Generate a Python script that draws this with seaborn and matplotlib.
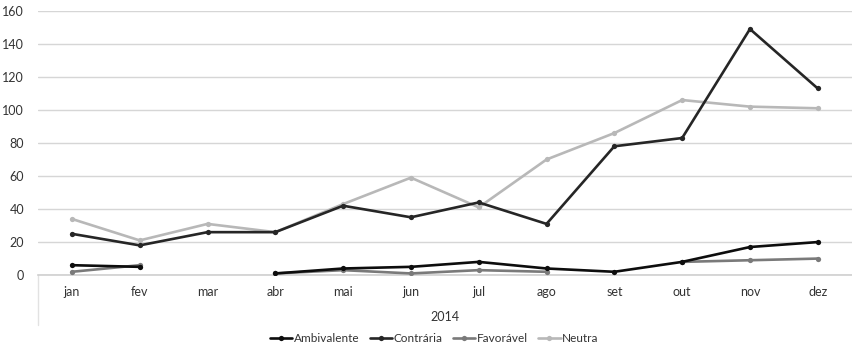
import numpy as np
import pandas as pd
import matplotlib
matplotlib.use("Agg")
import matplotlib.pyplot as plt
import seaborn as sns

months = ["jan", "fev", "mar", "abr", "mai", "jun", "jul", "ago", "set", "out", "nov", "dez"]
ambivalente = [6, 5, np.nan, 1, 4, 5, 8, 4, 2, 8, 17, 20]
contraria = [25, 18, 26, 26, 42, 35, 44, 31, 78, 83, 149, 113]
favoravel = [2, 6, np.nan, 1, 3, 1, 3, 2, np.nan, 8, 9, 10]
neutra = [34, 21, 31, 26, 43, 59, 41, 70, 86, 106, 102, 101]
year_label = "2014"

series = {
    "Ambivalente": ambivalente,
    "Contrária": contraria,
    "Favorável": favoravel,
    "Neutra": neutra,
}
colors = {
    "Ambivalente": "#0d0d0d",
    "Contrária": "#262626",
    "Favorável": "#7a7a7a",
    "Neutra": "#b8b8b8",
}
draw_order = ["Neutra", "Favorável", "Contrária", "Ambivalente"]

sns.set_theme(style="white")
plt.rcParams["font.family"] = ["Lato", "DejaVu Sans"]

fig = plt.figure(figsize=(8.52, 3.5), dpi=100)
ax = fig.add_axes([0.0446, 0.214, 0.955, 0.755])

x = np.arange(len(months))
for name in draw_order:
    y = np.asarray(series[name], dtype=float)
    # break the line where a month has no value
    seg = np.cumsum(np.isnan(y))
    df = pd.DataFrame({"x": x, "y": y, "seg": seg}).dropna()
    sns.lineplot(data=df, x="x", y="y", units="seg", estimator=None, ax=ax,
                 color=colors[name], linewidth=1.9, marker="o", markersize=3.8,
                 markeredgewidth=0, label=name, zorder=3)

ax.set_xlim(-0.5, 11.5)
ax.set_ylim(0, 160)
ax.set_yticks(range(0, 161, 20))
ax.set_xticks(x)
ax.set_xticklabels(months)
ax.grid(axis="y", color="#d6d6d6", linewidth=1.0)
ax.grid(axis="x", visible=False)
for s in ["left", "right", "top"]:
    ax.spines[s].set_visible(False)
ax.spines["bottom"].set_color("#cfcfcf")
ax.spines["bottom"].set_linewidth(1.2)
ax.tick_params(axis="both", length=0, labelsize=9, colors="#333333")
ax.tick_params(axis="x", pad=8)
ax.tick_params(axis="y", pad=10)
ax.set_xlabel(year_label, fontsize=9, color="#333333", labelpad=9)
ax.set_ylabel("")

# faint border of the category axis
ax.plot([-0.5, -0.5], [0, -30], color="#e2e2e2", linewidth=1.0,
        clip_on=False, transform=ax.transData)

handles, labels = ax.get_legend_handles_labels()
order = ["Ambivalente", "Contrária", "Favorável", "Neutra"]
hmap = dict(zip(labels, handles))
ax.legend([hmap[n] for n in order], order, loc="center",
          bbox_to_anchor=(0.487, -0.24), ncol=4, frameon=False,
          fontsize=8.5, handlelength=1.9, handletextpad=0.15, columnspacing=0.85,
          labelcolor="#333333")

fig.savefig("out.png", dpi=100)
